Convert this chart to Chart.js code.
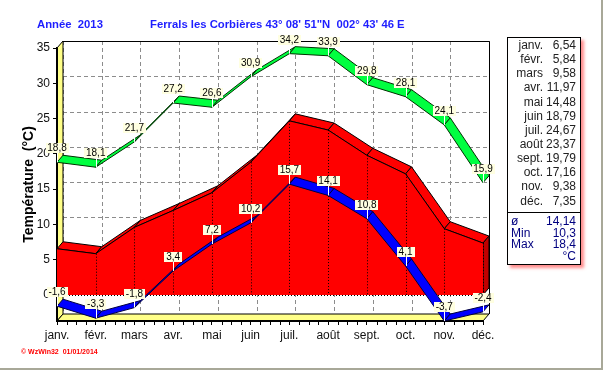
<!DOCTYPE html>
<html lang="fr">
<head>
<meta charset="utf-8">
<title>Année 2013 - Ferrals les Corbières</title>
<script src="https://cdn.jsdelivr.net/npm/chart.js@4.4.0/dist/chart.umd.min.js"></script>
<style>
  html, body { margin: 0; padding: 0; background: #fff; }
  #cadre {
    position: relative; width: 603px; height: 370px; box-sizing: border-box;
    border-right: 2px solid #a8a898; border-bottom: 2px solid #a8a898;
    overflow: hidden; font-family: "Liberation Sans", Arial, sans-serif;
  }
  #graph { position: absolute; left: 0; top: 0; }
  .titre { position: absolute; top: 17px; font-size: 11.3px; line-height: 14px; font-weight: bold; color: #1e1eff; white-space: pre; }
  #panneau {
    position: absolute; left: 507px; top: 37px; width: 74px; height: 228px; box-sizing: border-box;
    border: 1px solid #000; background: #fff; box-shadow: 3px 3px 3px rgba(255, 90, 90, 0.7);
    font-size: 12px; color: #222;
  }
  .ligne { height: 14.15px; line-height: 14.15px; white-space: nowrap; }
  .ligne span { display: inline-block; text-align: right; }
  .ligne .m { width: 35px; }
  .ligne .v { width: 33px; }
  #resume { position: absolute; left: 0; right: 0; top: 174px; padding-top: 3px; border-top: 1px solid #000; color: #000080; }
  #resume .ligne { height: 11.5px; line-height: 11.5px; }
  #resume .m { width: 24px; text-align: left; padding-left: 3px; }
  #resume .v { width: 41px; }
  #pied { position: absolute; left: 21px; top: 348px; font-size: 7px; font-weight: bold; color: #ff0000; white-space: pre; }
</style>
</head>
<body>
<div id="cadre">
  <canvas id="graph" width="603" height="370"></canvas>
  <div class="titre" style="left:37px">Année  2013</div>
  <div class="titre" style="left:150px">Ferrals les Corbières 43° 08' 51"N  002° 43' 46 E</div>
  <div id="panneau"><div id="liste"></div><div id="resume"></div></div>
  <div id="pied">© WzWin32  01/01/2014</div>
</div>
<script>
// Données 2013 (°C)
const mois = ['janv.', 'févr.', 'mars', 'avr.', 'mai', 'juin', 'juil.', 'août', 'sept.', 'oct.', 'nov.', 'déc.'];
const tempMoyenne = [6.54, 5.84, 9.58, 11.97, 14.48, 18.79, 24.67, 23.37, 19.79, 17.16, 9.38, 7.35];
const tempMax = [18.8, 18.1, 21.7, 27.2, 26.6, 30.9, 34.2, 33.9, 29.8, 28.1, 24.1, 15.9];
const tempMin = [-1.6, -3.3, -1.8, 3.4, 7.2, 10.2, 15.7, 14.1, 10.8, 4.1, -3.7, -2.4];
const yTicks = [0, 5, 10, 15, 20, 25, 30, 35];
const resumeLabels = ['ø', 'Min', 'Max', ''];
const resumeValeurs = ['14,14', '10,3', '18,4', '°C'];

const police = '"Liberation Sans", Arial, sans-serif';
// décalage de la profondeur 3D (px)
const DX = 6, DY = -7;

function virgule(v, d) {
  return v.toFixed(d).replace('.', ',');
}

// Panneau de droite
const liste = document.getElementById('liste');
mois.forEach((m, i) => {
  const div = document.createElement('div');
  div.className = 'ligne';
  div.innerHTML = `<span class="m">${m}</span><span class="v">${virgule(tempMoyenne[i], 2)}</span>`;
  liste.appendChild(div);
});
const resume = document.getElementById('resume');
resumeLabels.forEach((l, i) => {
  const div = document.createElement('div');
  div.className = 'ligne';
  div.innerHTML = `<span class="m">${l}</span><span class="v">${resumeValeurs[i]}</span>`;
  resume.appendChild(div);
});

function pointsDe(chart, index) {
  return chart.getDatasetMeta(index).data.map(p => ({ x: p.x, y: p.y }));
}

function poly(ctx, pts, fill, stroke) {
  ctx.beginPath();
  ctx.moveTo(pts[0][0], pts[0][1]);
  for (let i = 1; i < pts.length; i++) ctx.lineTo(pts[i][0], pts[i][1]);
  ctx.closePath();
  ctx.fillStyle = fill;
  ctx.fill();
  if (stroke) {
    ctx.strokeStyle = stroke;
    ctx.stroke();
  }
}

// ruban 3D : ligne avant + ligne arrière décalée
function ruban(ctx, pts, fill, edge) {
  for (let i = 0; i < pts.length - 1; i++) {
    const a = pts[i], b = pts[i + 1];
    poly(ctx, [[a.x, a.y], [b.x, b.y], [b.x + DX, b.y + DY], [a.x + DX, a.y + DY]], fill, edge);
  }
}

function etiquettes(ctx, pts, valeurs) {
  ctx.font = '10px ' + police;
  ctx.textAlign = 'center';
  ctx.textBaseline = 'middle';
  pts.forEach((p, i) => {
    const txt = virgule(valeurs[i], 1);
    const w = Math.round(ctx.measureText(txt).width) + 4;
    const h = 10;
    const bas = Math.round(p.y + DY - 2);
    ctx.strokeStyle = '#fff';
    ctx.lineWidth = 1;
    ctx.beginPath();
    ctx.moveTo(Math.round(p.x) + 0.5, bas);
    ctx.lineTo(Math.round(p.x) + 0.5, p.y);
    ctx.stroke();
    ctx.fillStyle = '#ffffe1';
    ctx.fillRect(Math.round(p.x - w / 2), bas - h, w, h);
    ctx.fillStyle = '#000';
    ctx.fillText(txt, p.x, bas - h / 2 + 0.5);
  });
}

const decor3d = {
  id: 'decor3d',
  beforeDatasetsDraw(chart) {
    const { ctx, chartArea: a, scales: { x, y } } = chart;
    ctx.save();
    ctx.lineWidth = 1;

    // grille du mur du fond
    ctx.strokeStyle = '#8c8c8c';
    ctx.setLineDash([4, 3]);
    yTicks.forEach(v => {
      const py = Math.round(y.getPixelForValue(v) + DY) + 0.5;
      ctx.beginPath();
      ctx.moveTo(a.left + DX, py);
      ctx.lineTo(a.right + DX, py);
      ctx.stroke();
    });
    mois.forEach((m, i) => {
      const px = Math.round(x.getPixelForValue(i) + DX) + 0.5;
      ctx.beginPath();
      ctx.moveTo(px, a.top + DY);
      ctx.lineTo(px, a.bottom + DY);
      ctx.stroke();
    });
    ctx.setLineDash([]);

    // bord du mur du fond
    ctx.strokeStyle = '#000';
    ctx.beginPath();
    ctx.moveTo(a.left + DX, Math.round(a.top + DY) + 0.5);
    ctx.lineTo(Math.round(a.right + DX) + 0.5, Math.round(a.top + DY) + 0.5);
    ctx.lineTo(Math.round(a.right + DX) + 0.5, a.bottom + DY);
    ctx.stroke();

    // mur gauche et sol jaunes
    poly(ctx, [[a.left, a.top], [a.left + DX, a.top + DY], [a.left + DX, a.bottom + DY], [a.left, a.bottom]], '#ffff88', '#000');
    poly(ctx, [[a.left, a.bottom], [a.left + DX, a.bottom + DY], [a.right + DX, a.bottom + DY], [a.right, a.bottom]], '#ffff88', '#000');

    // axes avant
    ctx.lineWidth = 2;
    ctx.beginPath();
    ctx.moveTo(a.left, a.top);
    ctx.lineTo(a.left, a.bottom);
    ctx.lineTo(a.right, a.bottom);
    ctx.stroke();
    ctx.lineWidth = 1;

    // dessus et côté de l'aire des moyennes
    const moy = pointsDe(chart, 0);
    const y0 = y.getPixelForValue(0);
    ruban(ctx, moy, '#ff0000', '#000');
    const d = moy[moy.length - 1];
    poly(ctx, [[d.x, d.y], [d.x + DX, d.y + DY], [d.x + DX, y0 + DY], [d.x, y0]], '#c00000', '#000');
    ctx.restore();
  },
  afterDatasetsDraw(chart) {
    const { ctx, chartArea: a, scales: { x, y } } = chart;
    const moy = pointsDe(chart, 0);
    const y0 = y.getPixelForValue(0);
    ctx.save();
    ctx.lineWidth = 1;

    // séparations pointillées de l'aire
    ctx.strokeStyle = '#000';
    ctx.setLineDash([1, 2]);
    moy.forEach((p, i) => {
      if (i === 0) return;
      ctx.beginPath();
      ctx.moveTo(Math.round(p.x) + 0.5, p.y);
      ctx.lineTo(Math.round(p.x) + 0.5, y0);
      ctx.stroke();
    });
    ctx.beginPath();
    ctx.moveTo(a.left, Math.round(y0) + 0.5);
    ctx.lineTo(a.right, Math.round(y0) + 0.5);
    ctx.stroke();
    ctx.setLineDash([]);

    // petites graduations de l'axe des mois
    for (let i = 0; i < mois.length - 1; i++) {
      for (let k = 1; k < 4; k++) {
        const px = Math.round(x.getPixelForValue(i + k / 4)) + 0.5;
        ctx.beginPath();
        ctx.moveTo(px, a.bottom);
        ctx.lineTo(px, a.bottom + 4);
        ctx.stroke();
      }
    }

    // rubans des minimales et maximales
    const mini = pointsDe(chart, 2);
    const maxi = pointsDe(chart, 1);
    ruban(ctx, mini, '#0000ff', '#000040');
    ruban(ctx, maxi, '#00ff40', '#003000');

    etiquettes(ctx, mini, tempMin);
    etiquettes(ctx, maxi, tempMax);
    ctx.restore();
  },
};

const chart = new Chart(document.getElementById('graph'), {
  type: 'line',
  data: {
    labels: mois,
    datasets: [
      {
        label: 'Moyenne',
        data: tempMoyenne,
        fill: 'origin',
        backgroundColor: '#ff0000',
        borderColor: '#000',
        borderWidth: 1,
        pointRadius: 0,
        tension: 0,
      },
      { label: 'Max', data: tempMax, showLine: false, pointRadius: 0 },
      { label: 'Min', data: tempMin, showLine: false, pointRadius: 0 },
    ],
  },
  options: {
    responsive: false,
    animation: false,
    events: [],
    layout: { padding: { left: 0, top: 48, right: 120, bottom: 27 } },
    plugins: {
      legend: { display: false },
      tooltip: { enabled: false },
    },
    scales: {
      x: {
        offset: false,
        grid: { drawOnChartArea: false, tickLength: 4, color: '#000' },
        border: { color: '#000', width: 2 },
        ticks: { color: '#111', font: { family: police, size: 12 }, padding: 3, maxRotation: 0, autoSkip: false },
        afterFit: s => { s.height = 22; },
      },
      y: {
        min: Math.min(...tempMin),
        max: yTicks[yTicks.length - 1],
        afterBuildTicks: s => { s.ticks = yTicks.map(v => ({ value: v })); },
        grid: { drawOnChartArea: false, tickLength: 4, color: '#000' },
        border: { color: '#000', width: 2 },
        ticks: { color: '#111', font: { family: police, size: 12 }, padding: 3 },
        title: {
          display: true,
          text: 'Température  (°C)',
          color: '#000',
          font: { family: police, size: 14, weight: 'bold' },
          padding: { top: 21, bottom: 0 },
        },
        afterFit: s => { s.width = 57; },
      },
    },
  },
  plugins: [decor3d],
});
</script>
</body>
</html>
